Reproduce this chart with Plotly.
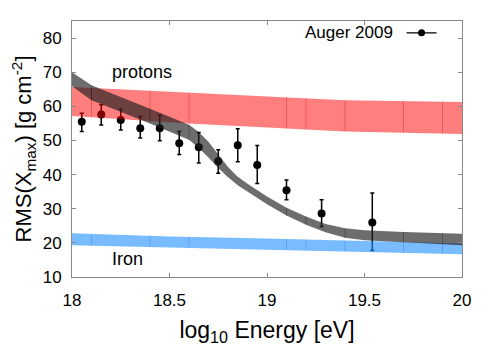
import numpy as np
import plotly.graph_objects as go

# Auger 2009 data
auger_x = [18.05, 18.15, 18.25, 18.35, 18.45, 18.55, 18.65, 18.75, 18.85, 18.95, 19.10, 19.28, 19.54]
auger_y = [55.5, 57.6, 56.0, 53.6, 53.6, 49.2, 48.0, 43.9, 48.6, 42.8, 35.4, 28.6, 26.0]
auger_hi = [58.0, 60.5, 59.2, 57.0, 57.4, 52.6, 52.3, 47.3, 53.4, 48.5, 38.4, 32.6, 34.6]
auger_lo = [52.6, 54.5, 53.1, 50.7, 49.9, 45.9, 43.4, 40.4, 43.8, 37.4, 32.6, 24.8, 17.8]

# Proton band
prot_x = [18.0, 18.6, 18.91, 19.4, 20.0]
prot_up = [65.7, 64.0, 63.0, 61.8, 61.3]
prot_lo = [57.2, 55.0, 54.1, 52.6, 51.9]

# Iron band
iron_x = [18.0, 18.5, 19.0, 19.5, 20.0]
iron_up = [22.8, 21.9, 21.3, 20.5, 19.8]
iron_lo = [19.3, 18.6, 18.0, 17.4, 16.7]

# Mixed composition band
mix_x = [18.0, 18.1, 18.4, 18.6, 18.65, 18.7, 18.75, 18.8, 18.85, 18.9, 19.0, 19.1, 19.2, 19.3, 19.4, 19.5, 19.7, 19.9, 20.0]
mix_up = [70.0, 66.2, 59.3, 54.6, 52.5, 49.6, 45.9, 42.2, 39.4, 37.3, 33.6, 30.3, 27.7, 25.5, 24.3, 23.7, 23.2, 22.9, 22.7]
mix_lo = [65.9, 61.8, 55.0, 50.2, 47.8, 45.0, 41.9, 39.2, 36.9, 35.1, 31.3, 28.0, 25.3, 23.1, 21.5, 20.8, 20.2, 19.6, 19.3]

seg_x = [18.1, 18.4, 18.6, 19.1, 19.2, 19.4, 19.7, 19.9]

x_ticks = [18, 18.5, 19, 19.5, 20]
y_ticks = [10, 20, 30, 40, 50, 60, 70, 80]

FONT = "Liberation Sans, Arial, sans-serif"

fig = go.Figure()

# data points first (bands drawn over them)
fig.add_trace(go.Scatter(
    x=auger_x, y=auger_y, mode="markers", name="Auger 2009",
    marker=dict(color="black", size=8),
    error_y=dict(type="data", symmetric=False,
                 array=[h - v for h, v in zip(auger_hi, auger_y)],
                 arrayminus=[v - l for l, v in zip(auger_lo, auger_y)],
                 color="black", thickness=1.5, width=2),
    showlegend=False,
))
# legend key (line + marker); the label is drawn as an annotation to its left
fig.add_trace(go.Scatter(
    x=[None], y=[None], mode="markers+lines", name=" ",
    line=dict(color="black", width=1.2),
    marker=dict(color="black", size=7), showlegend=True,
))


def band(xs, up, lo, color, linecolor):
    fig.add_trace(go.Scatter(
        x=list(xs) + list(xs[::-1]), y=list(up) + list(lo[::-1]),
        fill="toself", fillcolor=color, mode="lines",
        line=dict(width=0, color=color), hoverinfo="skip", showlegend=False,
    ))
    for sx in seg_x:
        u = float(np.interp(sx, xs, up))
        l = float(np.interp(sx, xs, lo))
        fig.add_trace(go.Scatter(
            x=[sx, sx], y=[l, u], mode="lines",
            line=dict(width=1, color=linecolor), hoverinfo="skip", showlegend=False,
        ))


band(iron_x, iron_up, iron_lo, "rgba(30,144,255,0.6)", "rgba(0,90,220,0.25)")
band(prot_x, prot_up, prot_lo, "rgba(255,0,0,0.5)", "rgba(200,0,0,0.3)")
band(mix_x, mix_up, mix_lo, "rgba(30,30,30,0.65)", "rgba(0,0,0,0.25)")

axis_common = dict(
    showline=True, linecolor="#888888", linewidth=1, mirror="ticks",
    ticks="inside", ticklen=4, tickcolor="#888888", tickwidth=1,
    showgrid=False, zeroline=False,
    tickfont=dict(family=FONT, size=17, color="black"),
)

fig.update_xaxes(range=[18, 20], tickvals=x_ticks, ticktext=[str(v) for v in x_ticks],
                 title=dict(text="log<sub>10</sub> Energy [eV]",
                            font=dict(family=FONT, size=23, color="black"), standoff=12),
                 ticklabelstandoff=8, **axis_common)
fig.update_yaxes(range=[10, 85], tickvals=y_ticks,
                 title=dict(text="RMS(X<sub>max</sub>) [g cm<sup>-2</sup>]",
                            font=dict(family=FONT, size=22, color="black"), standoff=6),
                 ticklabelstandoff=6, **axis_common)

fig.add_annotation(x=18.36, y=70.2, text="protons", showarrow=False,
                   font=dict(family=FONT, size=18, color="black"))
fig.add_annotation(x=18.285, y=15.2, text="Iron", showarrow=False,
                   font=dict(family=FONT, size=18, color="black"))
fig.add_annotation(x=19.42, y=81.5, text="Auger 2009", showarrow=False,
                   font=dict(family=FONT, size=17, color="black"))

# the page body adds an 8px offset, so the figure is drawn 8px smaller
fig.update_layout(
    width=492, height=353,
    margin=dict(l=64, r=38, t=10, b=84),
    plot_bgcolor="white", paper_bgcolor="white",
    legend=dict(x=0.845, y=0.954, xanchor="left", yanchor="middle",
                bgcolor="rgba(0,0,0,0)", font=dict(size=12), itemwidth=30),
    showlegend=True,
)

fig.write_html("out.html")
